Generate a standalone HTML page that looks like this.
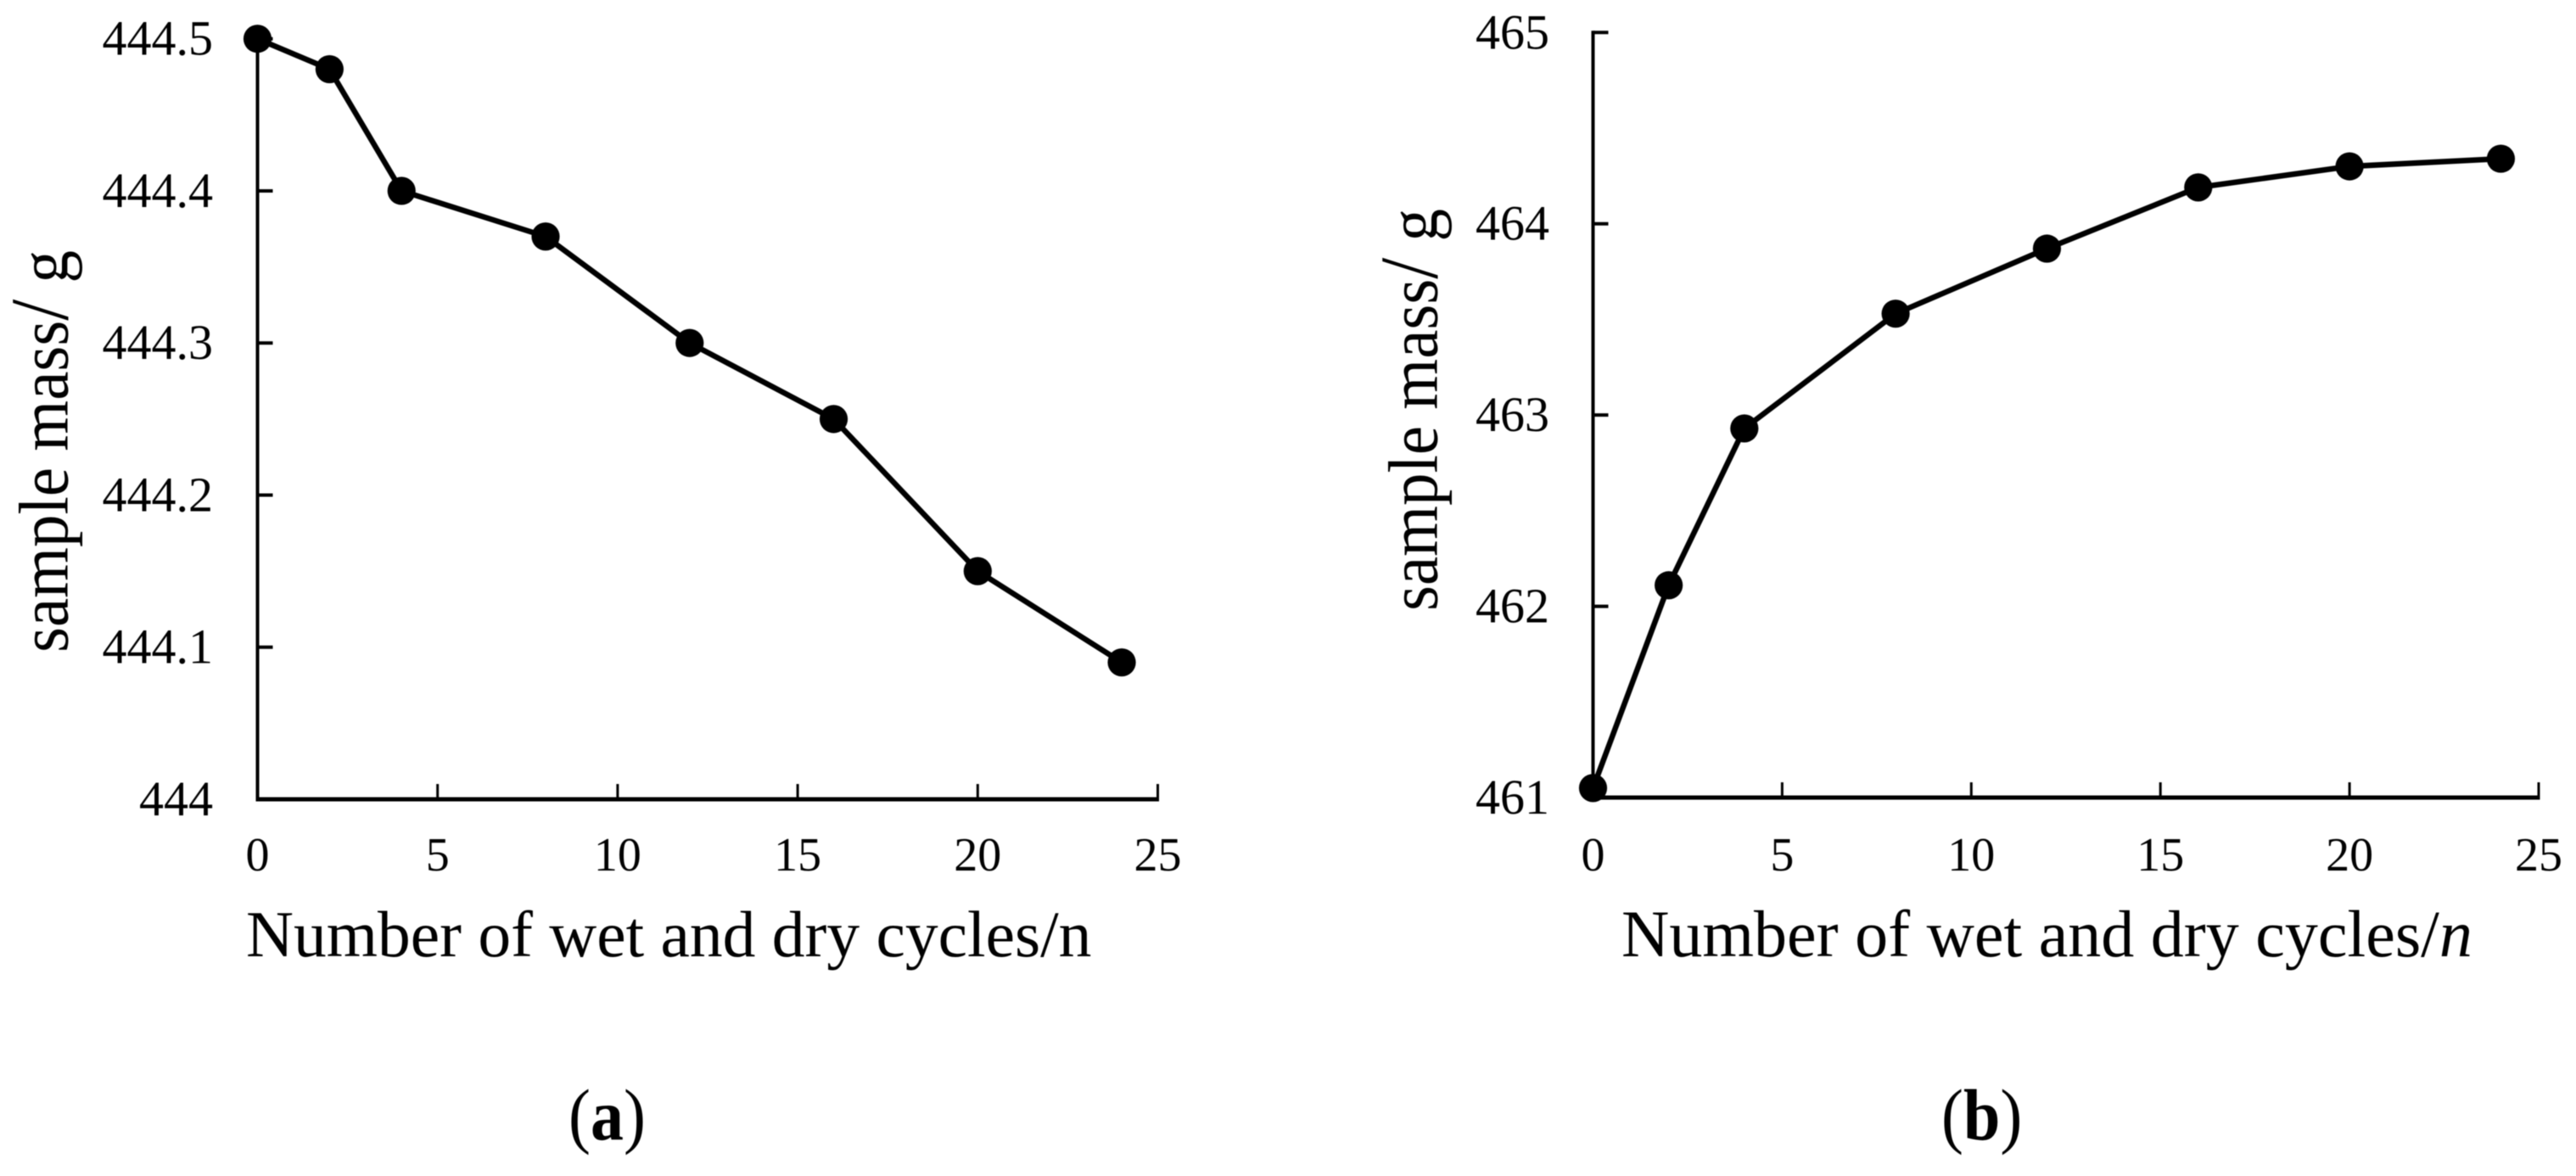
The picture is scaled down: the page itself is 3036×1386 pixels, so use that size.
<!DOCTYPE html>
<html lang="en">
<head>
<meta charset="utf-8">
<title>Sample mass versus wet and dry cycles</title>
<style>
  html, body { margin: 0; padding: 0; background: #fff; }
  svg { display: block; font-family: "Liberation Serif", serif; fill: #000; filter: blur(0.6px); }
  text { fill: #000; }
</style>
</head>
<body>
<svg id="figure" xmlns="http://www.w3.org/2000/svg" width="3036" height="1386" viewBox="0 0 3036 1386">
  <rect x="0" y="0" width="3036" height="1386" fill="#fff"/>
  <g id="panel-a"></g>
  <g id="panel-b"></g>

  <text transform="translate(79.5 769) rotate(-90) scale(1 1.08)" font-size="77">sample mass<tspan font-size="90">/</tspan> g</text>
  <text x="290" y="1127" font-size="77.5">Number of wet and dry cycles/n</text>
  <text transform="translate(670 1343) scale(1 1.1)" font-size="78">(<tspan font-weight="bold">a</tspan>)</text>

  <text transform="translate(1693.7 720) rotate(-90) scale(1 1.08)" font-size="77">sample mass<tspan font-size="90">/</tspan> g</text>
  <text x="1911" y="1127" font-size="78">Number of wet and dry cycles/<tspan font-style="italic">n</tspan></text>
  <text transform="translate(2288 1343) scale(1 1.1)" font-size="78">(<tspan font-weight="bold">b</tspan>)</text>
</svg>

<script>
const cycles = [0, 2, 4, 8, 12, 16, 20, 24];
const massA = [444.5, 444.48, 444.4, 444.37, 444.3, 444.25, 444.15, 444.09];
const massB = [461.05, 462.11, 462.93, 463.53, 463.87, 464.19, 464.3, 464.34];
const xTickLabels = ["0", "5", "10", "15", "20", "25"];
const yTickLabelsA = ["444", "444.1", "444.2", "444.3", "444.4", "444.5"];
const yTickLabelsB = ["461", "462", "463", "464", "465"];

const SVG_NS = "http://www.w3.org/2000/svg";

function makeNode(tag, attrs, parent) {
  const node = document.createElementNS(SVG_NS, tag);
  for (const key in attrs) node.setAttribute(key, attrs[key]);
  parent.appendChild(node);
  return node;
}

function drawPanel(parent, prefix, box, yLabels, values) {
  const xTicks = xTickLabels.map(Number);
  const yTicks = yLabels.map(Number);
  const xMin = xTicks[0], xMax = xTicks[xTicks.length - 1];
  const yMin = yTicks[0], yMax = yTicks[yTicks.length - 1];
  const xScale = v => box.left + (v - xMin) / (xMax - xMin) * (box.right - box.left);
  const yScale = v => box.bottom - (v - yMin) / (yMax - yMin) * (box.bottom - box.top);

  const yAxis = makeNode("line", { x1: box.left, x2: box.left, y1: box.top - 2, y2: box.bottom + 2, stroke: "#000", "stroke-width": 4 }, parent);
  
  

  const xAxis = makeNode("line", { x1: box.left - 2, x2: box.right + 1.5, y1: box.bottom, y2: box.bottom, stroke: "#000", "stroke-width": 5 }, parent);
  
  

  xTicks.forEach((tick, i) => {
    const x = xScale(tick);
    const mark = makeNode("line", { x1: x, x2: x, y1: box.bottom - 18, y2: box.bottom, stroke: "#000", "stroke-width": 3 }, parent);
    
    
    const label = makeNode("text", { x: x, y: 1026, "font-size": 56, "text-anchor": "middle" }, parent);
    label.textContent = xTickLabels[i];
    
    
  });

  yTicks.forEach((tick, i) => {
    const y = yScale(tick);
    const mark = makeNode("line", { x1: box.left, x2: box.left + 18, y1: y, y2: y, stroke: "#000", "stroke-width": 4 }, parent);
    
    
    const label = makeNode("text", { x: box.labelX, y: y + 19, "font-size": 58, "text-anchor": "end" }, parent);
    label.textContent = yLabels[i];
    
    
  });

  const points = cycles.map((c, i) => xScale(c) + "," + yScale(values[i])).join(" ");
  const line = makeNode("polyline", { points: points, fill: "none", stroke: "#000", "stroke-width": 6.5, "stroke-linejoin": "round" }, parent);
  
  

  cycles.forEach((c, i) => {
    const dot = makeNode("circle", { cx: xScale(c), cy: yScale(values[i]), r: 16.6, fill: "#000" }, parent);
    
    
  });
}

drawPanel(document.getElementById("panel-a"), "panel-a",
  { left: 303.5, right: 1364.5, top: 45.7, bottom: 942, labelX: 251 }, yTickLabelsA, massA);
drawPanel(document.getElementById("panel-b"), "panel-b",
  { left: 1877.5, right: 2992, top: 38.3, bottom: 940, labelX: 1826 }, yTickLabelsB, massB);
</script>
</body>
</html>
